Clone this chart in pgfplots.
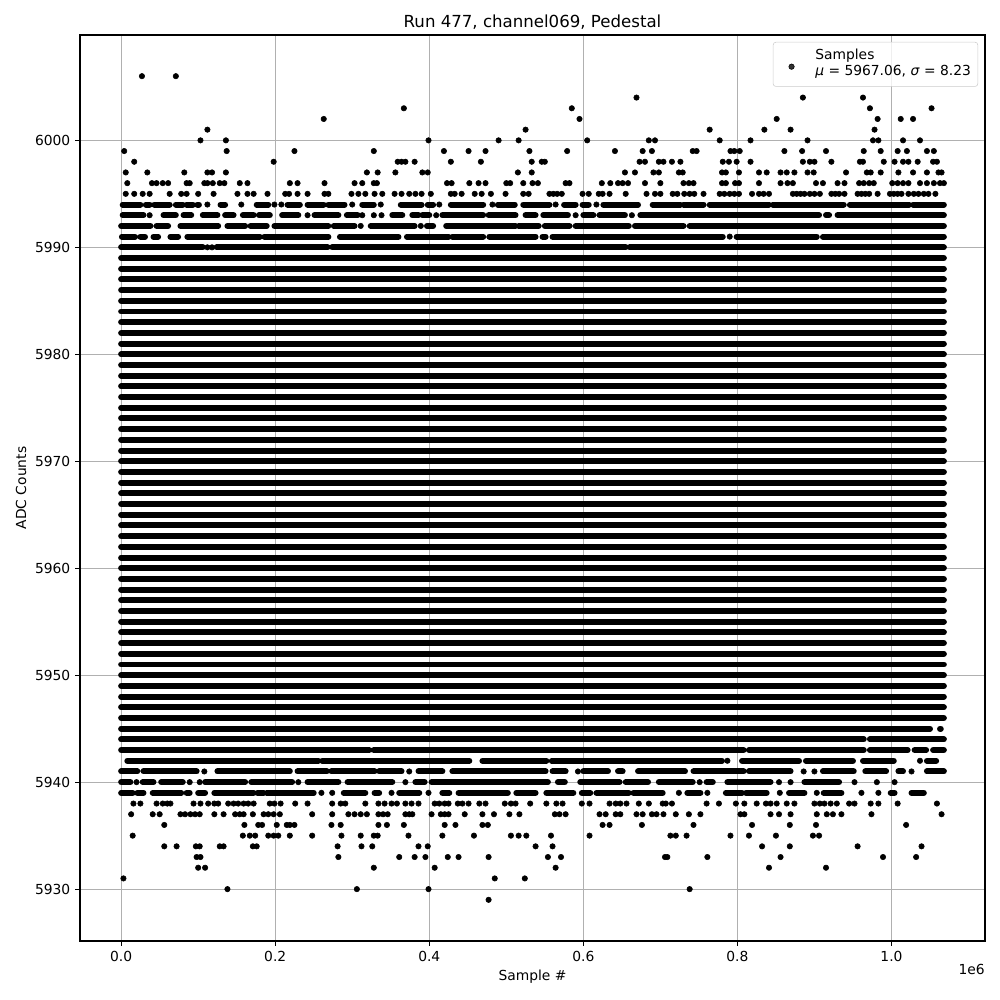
\documentclass[border=0pt]{standalone}
\usepackage{fontspec}
\setmainfont{DejaVu Sans}
\usepackage{pgfplots}
\pgfplotsset{compat=1.18}
\definecolor{gridgray}{HTML}{B0B0B0}
\definecolor{legendgray}{HTML}{CCCCCC}
\pgfplotsset{mylegimg/.style={legend image code/.code={\path (0pt,-5pt) (25.1pt,5pt); \draw[##1] plot coordinates {(10.1pt,-1.7pt)};}}}
\begin{document}
\begin{tikzpicture}
\begin{axis}[
  at={(0,0)}, anchor=south west,
  scale only axis, width=9.05in, height=9.06in,
  xmin=-0.0534, xmax=1.1214, ymin=5925.15, ymax=6009.85,
  axis line style={line width=0.8pt},
  tick pos=left, tick align=outside, major tick length=3.5pt,
  tick style={black, line width=0.8pt},
  /pgf/number format/assume math mode=true,
  xtick={0,0.2,0.4,0.6,0.8,1.0}, xticklabels={0.0,0.2,0.4,0.6,0.8,1.0},
  ytick={5930,5940,5950,5960,5970,5980,5990,6000},
  yticklabels={5930,5940,5950,5960,5970,5980,5990,6000},
  grid=major, major grid style={gridgray, line width=0.8pt},
  title={Run 477, channel069, Pedestal},
  every axis title/.style={font=\large, at={([yshift=5.7pt]axis description cs:0.5,1)}, anchor=base},
  xlabel={Sample \#},
  xlabel style={at={([yshift=-28.8pt]axis description cs:0.5,0)}, anchor=base},
  ylabel={ADC Counts},
  ylabel style={at={([xshift=-38.9pt]axis description cs:0,0.5)}, anchor=base},
  legend style={at={(axis description cs:1,1)}, anchor=north east, xshift=-5pt, yshift=-5pt,
    draw=legendgray, rounded corners=2pt, fill=white, fill opacity=0.8, text opacity=1,
    font=\normalsize, inner ysep=2pt, nodes={text depth=}},
  legend cell align=left,
  unbounded coords=jump,
]
\addplot[only marks, mark=*, mark size=1.96pt, black, mylegimg] coordinates {
(0.027,6006)(0.071,6006)
(0.669,6004)(0.885,6004)(0.963,6004)
(0.367,6003)(0.585,6003)(0.972,6003)(1.052,6003)
(0.263,6002)(0.595,6002)(0.851,6002)(0.982,6002)(1.012,6002)(1.028,6002)
(0.112,6001)(0.525,6001)(0.764,6001)(0.835,6001)(0.869,6001)(0.978,6001)
(0.103,6000)(0.136,6000)(0.399,6000)(0.490,6000)(0.516,6000)(0.605,6000)(0.685,6000)(0.693,6000)
(0.777,6000)(0.817,6000)(0.891,6000)(0.976,6000)(0.983,6000)(1.015,6000)(1.037,6000)
(0.004,5999)(0.137,5999)(0.225,5999)(0.328,5999)(0.419,5999)(0.451,5999)(0.473,5999)(0.530,5999)
(0.579,5999)(0.641,5999)(0.677,5999)(0.689,5999)(0.742,5999)(0.747,5999)(0.791,5999)(0.796,5999)
(0.803,5999)(0.861,5999)(0.884,5999)(0.915,5999)(0.964,5999)(0.986,5999)(1.008,5999)(1.020,5999)
(1.046,5999)(1.055,5999)
(0.017,5998)(0.198,5998)(0.359,5998)(0.364,5998)(0.369,5998)(0.381,5998)(0.428,5998)(0.467,5998)
(0.533,5998)(0.546,5998)(0.550,5998)(0.673,5998)(0.680,5998)(0.698,5998)(0.704,5998)(0.715,5998)
(0.726,5998)(0.781,5998)(0.789,5998)(0.799,5998)(0.817,5998)(0.885,5998)(0.894,5998)(0.900,5998)
(0.922,5998)(0.959,5998)(0.963,5998)(0.990,5998)(1.004,5998)(1.015,5998)(1.022,5998)(1.034,5998)
(1.054,5998)(1.059,5998)
(0.006,5997)(0.034,5997)(0.082,5997)(0.112,5997)(0.118,5997)(0.136,5997)(0.319,5997)(0.333,5997)
(0.356,5997)(0.391,5997)(0.398,5997)(0.515,5997)(0.533,5997)(0.654,5997)(0.667,5997)(0.691,5997)
(0.698,5997)(0.724,5997)(0.729,5997)(0.780,5997)(0.785,5997)(0.802,5997)(0.828,5997)(0.838,5997)
(0.856,5997)(0.864,5997)(0.874,5997)(0.891,5997)(0.899,5997)(0.941,5997)(0.968,5997)(0.973,5997)
(0.986,5997)(1.009,5997)(1.028,5997)(1.046,5997)(1.061,5997)(1.065,5997)
(0.008,5996)(0.040,5996)(0.046,5996)(0.054,5996)(0.061,5996)(0.085,5996)(0.089,5996)(0.108,5996)
(0.112,5996)(0.119,5996)(0.128,5996)(0.134,5996)(0.154,5996)(0.164,5996)(0.219,5996)(0.229,5996)
(0.264,5996)(0.303,5996)(0.313,5996)(0.328,5996)(0.332,5996)(0.423,5996)(0.429,5996)(0.452,5996)
(0.464,5996)(0.473,5996)(0.500,5996)(0.505,5996)(0.522,5996)(0.534,5996)(0.541,5996)(0.577,5996)
(0.582,5996)(0.624,5996)(0.635,5996)(0.645,5996)(0.651,5996)(0.658,5996)(0.680,5996)(0.700,5996)
(0.730,5996)(0.737,5996)(0.743,5996)(0.780,5996)(0.785,5996)(0.797,5996)(0.802,5996)(0.828,5996)
(0.856,5996)(0.865,5996)(0.872,5996)(0.902,5996)(0.911,5996)(0.930,5996)(0.939,5996)(0.958,5996)
(0.964,5996)(0.971,5996)(0.977,5996)(1.001,5996)(1.008,5996)(1.015,5996)(1.022,5996)(1.037,5996)
(1.046,5996)(1.055,5996)(1.063,5996)(1.068,5996)
(0.006,5995)(0.017,5995)(0.028,5995)(0.037,5995)(0.063,5995)(0.078,5995)(0.085,5995)(0.100,5995)
(0.120,5995)(0.151,5995)(0.164,5995)(0.172,5995)(0.190,5995)(0.213,5995)(0.218,5995)(0.229,5995)
(0.242,5995)(0.264,5995)(0.269,5995)(0.299,5995)(0.308,5995)(0.317,5995)(0.329,5995)(0.339,5995)
(0.355,5995)(0.364,5995)(0.374,5995)(0.382,5995)(0.390,5995)(0.402,5995)(0.428,5995)(0.433,5995)
(0.442,5995)(0.459,5995)(0.468,5995)(0.480,5995)(0.499,5995)(0.522,5995)(0.529,5995)(0.556,5995)
(0.561,5995)(0.566,5995)(0.572,5995)(0.599,5995)(0.607,5995)(0.620,5995)(0.625,5995)(0.634,5995)
(0.655,5995)(0.682,5995)(0.693,5995)(0.700,5995)(0.716,5995)(0.722,5995)(0.731,5995)(0.738,5995)
(0.744,5995)(0.756,5995)(0.777,5995)(0.783,5995)(0.790,5995)(0.796,5995)(0.802,5995)(0.819,5995)
(0.828,5995)(0.834,5995)(0.841,5995)(0.872,5995)(0.877,5995)(0.882,5995)(0.887,5995)(0.894,5995)
(0.900,5995)(0.907,5995)(0.922,5995)(0.927,5995)(0.932,5995)(0.939,5995)(0.956,5995)(0.961,5995)
(0.966,5995)(0.971,5995)(0.982,5995)(0.998,5995)(1.003,5995)(1.008,5995)(1.013,5995)(1.022,5995)
(1.029,5995)(1.035,5995)(1.042,5995)(1.048,5995)(1.057,5995)
(0.112,5994)(0.156,5994)(0.199,5994)(0.208,5994)(0.300,5994)(0.337,5994)(0.413,5994)(0.482,5994)
(0.564,5994)(0.617,5994)
(0.037,5993)(0.242,5993)(0.313,5993)(0.328,5993)(0.338,5993)(0.409,5993)(0.590,5993)(0.663,5993)
(0.311,5992)(0.389,5992)
(0.790,5991)
(0.112,5990)(0.118,5990)
(0.787,5942)(1.037,5942)
(0.108,5941)(0.374,5941)(0.593,5941)(0.886,5941)(0.900,5941)(1.026,5941)
(0.020,5940)(0.089,5940)(0.102,5940)(0.230,5940)(0.369,5940)(0.751,5940)(0.854,5940)(0.869,5940)
(0.952,5940)(0.981,5940)(1.004,5940)
(0.260,5939)(0.274,5939)(0.351,5939)(0.399,5939)(0.724,5939)(0.761,5939)(0.855,5939)(0.903,5939)
(0.961,5939)(0.983,5939)
(0.016,5938)(0.025,5938)(0.046,5938)(0.054,5938)(0.060,5938)(0.064,5938)(0.094,5938)(0.103,5938)
(0.113,5938)(0.121,5938)(0.126,5938)(0.139,5938)(0.146,5938)(0.152,5938)(0.159,5938)(0.165,5938)
(0.172,5938)(0.193,5938)(0.199,5938)(0.207,5938)(0.226,5938)(0.242,5938)(0.274,5938)(0.285,5938)
(0.291,5938)(0.317,5938)(0.334,5938)(0.342,5938)(0.351,5938)(0.358,5938)(0.369,5938)(0.377,5938)
(0.386,5938)(0.407,5938)(0.413,5938)(0.420,5938)(0.425,5938)(0.437,5938)(0.443,5938)(0.451,5938)
(0.465,5938)(0.473,5938)(0.498,5938)(0.506,5938)(0.512,5938)(0.531,5938)(0.552,5938)(0.565,5938)
(0.573,5938)(0.598,5938)(0.608,5938)(0.634,5938)(0.642,5938)(0.648,5938)(0.656,5938)(0.672,5938)
(0.685,5938)(0.703,5938)(0.707,5938)(0.715,5938)(0.760,5938)(0.776,5938)(0.798,5938)(0.809,5938)
(0.825,5938)(0.837,5938)(0.843,5938)(0.851,5938)(0.864,5938)(0.874,5938)(0.900,5938)(0.907,5938)
(0.913,5938)(0.921,5938)(0.929,5938)(0.945,5938)(0.952,5938)(0.973,5938)(0.983,5938)(1.008,5938)
(1.059,5938)
(0.013,5937)(0.041,5937)(0.050,5937)(0.077,5937)(0.083,5937)(0.090,5937)(0.096,5937)(0.102,5937)
(0.121,5937)(0.133,5937)(0.148,5937)(0.154,5937)(0.159,5937)(0.171,5937)(0.185,5937)(0.191,5937)
(0.198,5937)(0.206,5937)(0.248,5937)(0.274,5937)(0.295,5937)(0.303,5937)(0.311,5937)(0.319,5937)
(0.334,5937)(0.340,5937)(0.346,5937)(0.369,5937)(0.374,5937)(0.378,5937)(0.403,5937)(0.415,5937)
(0.420,5937)(0.425,5937)(0.446,5937)(0.469,5937)(0.484,5937)(0.504,5937)(0.517,5937)(0.563,5937)
(0.569,5937)(0.577,5937)(0.621,5937)(0.629,5937)(0.642,5937)(0.648,5937)(0.669,5937)(0.677,5937)
(0.689,5937)(0.695,5937)(0.704,5937)(0.720,5937)(0.737,5937)(0.752,5937)(0.804,5937)(0.809,5937)
(0.843,5937)(0.854,5937)(0.869,5937)(0.903,5937)(0.916,5937)(0.924,5937)(0.935,5937)(0.974,5937)
(1.065,5937)
(0.056,5936)(0.160,5936)(0.178,5936)(0.183,5936)(0.202,5936)(0.215,5936)(0.219,5936)(0.225,5936)
(0.273,5936)(0.285,5936)(0.334,5936)(0.345,5936)(0.367,5936)(0.420,5936)(0.434,5936)(0.469,5936)
(0.476,5936)(0.625,5936)(0.634,5936)(0.676,5936)(0.743,5936)(0.819,5936)(0.868,5936)(0.902,5936)
(1.019,5936)
(0.015,5935)(0.158,5935)(0.167,5935)(0.174,5935)(0.191,5935)(0.198,5935)(0.204,5935)(0.219,5935)
(0.248,5935)(0.286,5935)(0.311,5935)(0.328,5935)(0.333,5935)(0.373,5935)(0.417,5935)(0.458,5935)
(0.506,5935)(0.516,5935)(0.526,5935)(0.558,5935)(0.608,5935)(0.713,5935)(0.720,5935)(0.734,5935)
(0.791,5935)(0.815,5935)(0.850,5935)(0.898,5935)(0.906,5935)
(0.056,5934)(0.072,5934)(0.097,5934)(0.102,5934)(0.128,5934)(0.133,5934)(0.171,5934)(0.176,5934)
(0.281,5934)(0.312,5934)(0.326,5934)(0.386,5934)(0.398,5934)(0.538,5934)(0.560,5934)(0.832,5934)
(0.868,5934)(0.956,5934)(1.039,5934)
(0.098,5933)(0.103,5933)(0.282,5933)(0.361,5933)(0.381,5933)(0.395,5933)(0.424,5933)(0.438,5933)
(0.477,5933)(0.554,5933)(0.571,5933)(0.706,5933)(0.709,5933)(0.761,5933)(0.856,5933)(0.989,5933)
(1.032,5933)
(0.100,5932)(0.109,5932)(0.328,5932)(0.407,5932)(0.564,5932)(0.841,5932)(0.915,5932)
(0.003,5931)(0.485,5931)(0.524,5931)
(0.138,5930)(0.306,5930)(0.399,5930)(0.738,5930)
(0.477,5929)
};
\addlegendentry{\begin{tabular}[c]{@{}l@{}}Samples\\\textit{μ} = 5967.06, \textit{σ} = 8.23\end{tabular}}
\addplot[forget plot, black, line width=4.32pt, line cap=round] coordinates {
(0.002,5994)(0.025,5994)(nan,nan)(0.032,5994)(0.037,5994)(nan,nan)(0.043,5994)(0.063,5994)(nan,nan)
(0.071,5994)(0.080,5994)(nan,nan)(0.085,5994)(0.093,5994)(nan,nan)(0.099,5994)(0.101,5994)(nan,nan)
(0.129,5994)(0.135,5994)(nan,nan)(0.176,5994)(0.191,5994)(nan,nan)(0.216,5994)(0.232,5994)(nan,nan)
(0.242,5994)(0.263,5994)(nan,nan)(0.269,5994)(0.290,5994)(nan,nan)(0.313,5994)(0.328,5994)(nan,nan)
(0.363,5994)(0.390,5994)(nan,nan)(0.398,5994)(0.405,5994)(nan,nan)(0.428,5994)(0.470,5994)(nan,nan)
(0.489,5994)(0.511,5994)(nan,nan)(0.522,5994)(0.556,5994)(nan,nan)(0.575,5994)(0.590,5994)(nan,nan)
(0.599,5994)(0.607,5994)(nan,nan)(0.626,5994)(0.671,5994)(nan,nan)(0.690,5994)(0.726,5994)(nan,nan)
(0.730,5994)(0.756,5994)(nan,nan)(0.764,5994)(0.841,5994)(nan,nan)(0.846,5994)(0.938,5994)(nan,nan)
(0.946,5994)(1.023,5994)(nan,nan)(1.028,5994)(1.068,5994)(nan,nan)
(0.002,5993)(0.029,5993)(nan,nan)(0.055,5993)(0.071,5993)(nan,nan)(0.081,5993)(0.091,5993)(nan,nan)
(0.106,5993)(0.125,5993)(nan,nan)(0.135,5993)(0.146,5993)(nan,nan)(0.158,5993)(0.172,5993)(nan,nan)
(0.179,5993)(0.193,5993)(nan,nan)(0.209,5993)(0.230,5993)(nan,nan)(0.251,5993)(0.282,5993)(nan,nan)
(0.293,5993)(0.307,5993)(nan,nan)(0.352,5993)(0.365,5993)(nan,nan)(0.378,5993)(0.386,5993)(nan,nan)
(0.391,5993)(0.400,5993)(nan,nan)(0.417,5993)(0.470,5993)(nan,nan)(0.477,5993)(0.512,5993)(nan,nan)
(0.525,5993)(0.538,5993)(nan,nan)(0.548,5993)(0.580,5993)(nan,nan)(0.600,5993)(0.613,5993)(nan,nan)
(0.621,5993)(0.654,5993)(nan,nan)(0.674,5993)(0.906,5993)(nan,nan)(0.915,5993)(0.919,5993)(nan,nan)
(0.930,5993)(1.068,5993)(nan,nan)
(0,5992)(0.038,5992)(nan,nan)(0.046,5992)(0.061,5992)(nan,nan)(0.077,5992)(0.126,5992)(nan,nan)
(0.138,5992)(0.161,5992)(nan,nan)(0.168,5992)(0.189,5992)(nan,nan)(0.199,5992)(0.269,5992)(nan,nan)
(0.276,5992)(0.303,5992)(nan,nan)(0.324,5992)(0.381,5992)(nan,nan)(0.397,5992)(0.405,5992)(nan,nan)
(0.422,5992)(0.512,5992)(nan,nan)(0.516,5992)(0.542,5992)(nan,nan)(0.550,5992)(0.582,5992)(nan,nan)
(0.590,5992)(0.659,5992)(nan,nan)(0.667,5992)(0.730,5992)(nan,nan)(0.738,5992)(1.068,5992)(nan,nan)
(0.001,5991)(0.018,5991)(nan,nan)(0.025,5991)(0.031,5991)(nan,nan)(0.042,5991)(0.048,5991)(nan,nan)
(0.064,5991)(0.074,5991)(nan,nan)
(0.086,5991)(0.180,5991)(nan,nan)(0.186,5991)(0.269,5991)(nan,nan)(0.284,5991)(0.360,5991)(nan,nan)
(0.371,5991)(0.425,5991)(nan,nan)(0.430,5991)(0.470,5991)(nan,nan)(0.478,5991)(0.538,5991)(nan,nan)
(0.547,5991)(0.551,5991)(nan,nan)(0.560,5991)(0.781,5991)(nan,nan)(0.799,5991)(0.903,5991)(nan,nan)
(0.911,5991)(1.068,5991)(nan,nan)
(0,5990)(0.106,5990)(nan,nan)(0.124,5990)(0.268,5990)(nan,nan)(0.274,5990)(0.655,5990)(nan,nan)
(0.660,5990)(1.068,5990)(nan,nan)
(0,5989)(1.068,5989)(nan,nan)(0,5988)(1.068,5988)(nan,nan)
(0,5987)(1.068,5987)(nan,nan)(0,5986)(1.068,5986)(nan,nan)(0,5985)(1.068,5985)(nan,nan)
(0,5984)(1.068,5984)(nan,nan)(0,5983)(1.068,5983)(nan,nan)(0,5982)(1.068,5982)(nan,nan)
(0,5981)(1.068,5981)(nan,nan)(0,5980)(1.068,5980)(nan,nan)(0,5979)(1.068,5979)(nan,nan)
(0,5978)(1.068,5978)(nan,nan)(0,5977)(1.068,5977)(nan,nan)(0,5976)(1.068,5976)(nan,nan)
(0,5975)(1.068,5975)(nan,nan)(0,5974)(1.068,5974)(nan,nan)(0,5973)(1.068,5973)(nan,nan)
(0,5972)(1.068,5972)(nan,nan)(0,5971)(1.068,5971)(nan,nan)(0,5970)(1.068,5970)(nan,nan)
(0,5969)(1.068,5969)(nan,nan)(0,5968)(1.068,5968)(nan,nan)(0,5967)(1.068,5967)(nan,nan)
(0,5966)(1.068,5966)(nan,nan)(0,5965)(1.068,5965)(nan,nan)(0,5964)(1.068,5964)(nan,nan)
(0,5963)(1.068,5963)(nan,nan)(0,5962)(1.068,5962)(nan,nan)(0,5961)(1.068,5961)(nan,nan)
(0,5960)(1.068,5960)(nan,nan)(0,5959)(1.068,5959)(nan,nan)(0,5958)(1.068,5958)(nan,nan)
(0,5957)(1.068,5957)(nan,nan)(0,5956)(1.068,5956)(nan,nan)(0,5955)(1.068,5955)(nan,nan)
(0,5954)(1.068,5954)(nan,nan)(0,5953)(1.068,5953)(nan,nan)(0,5952)(1.068,5952)(nan,nan)
(0,5951)(1.068,5951)(nan,nan)(0,5950)(1.068,5950)(nan,nan)(0,5949)(1.068,5949)(nan,nan)
(0,5948)(1.068,5948)(nan,nan)(0,5947)(1.068,5947)(nan,nan)(0,5946)(1.068,5946)(nan,nan)
(0,5945)(1.050,5945)(nan,nan)(1.063,5945)(1.064,5945)(nan,nan)
(0,5944)(0.964,5944)(nan,nan)(0.972,5944)(1.068,5944)(nan,nan)
(0,5943)(0.322,5943)(nan,nan)(0.328,5943)(0.808,5943)(nan,nan)(0.815,5943)(0.964,5943)(nan,nan)
(0.972,5943)(1.021,5943)(nan,nan)(1.030,5943)(1.045,5943)(nan,nan)(1.054,5943)(1.068,5943)(nan,nan)
(0.008,5942)(0.256,5942)(nan,nan)(0.261,5942)(0.452,5942)(nan,nan)(0.469,5942)(0.552,5942)(nan,nan)
(0.559,5942)(0.780,5942)(nan,nan)(0.806,5942)(0.880,5942)(nan,nan)(0.889,5942)(0.950,5942)(nan,nan)
(0.963,5942)(1.003,5942)(nan,nan)(1.046,5942)(1.058,5942)(nan,nan)
(0,5941)(0.021,5941)(nan,nan)(0.029,5941)(0.098,5941)(nan,nan)(0.125,5941)(0.219,5941)(nan,nan)
(0.229,5941)(0.267,5941)(nan,nan)(0.273,5941)(0.329,5941)(nan,nan)(0.335,5941)(0.364,5941)(nan,nan)
(0.386,5941)(0.417,5941)(nan,nan)(0.430,5941)(0.551,5941)(nan,nan)(0.560,5941)(0.577,5941)(nan,nan)
(0.600,5941)(0.632,5941)(nan,nan)(0.645,5941)(0.651,5941)(nan,nan)(0.671,5941)(0.732,5941)(nan,nan)
(0.743,5941)(0.808,5941)(nan,nan)(0.815,5941)(0.869,5941)(nan,nan)(0.911,5941)(0.951,5941)(nan,nan)
(0.966,5941)(0.993,5941)(nan,nan)(1.009,5941)(1.015,5941)(nan,nan)(1.046,5941)(1.068,5941)(nan,nan)
(0,5940)(0.012,5940)(nan,nan)(0.028,5940)(0.042,5940)(nan,nan)(0.052,5940)(0.080,5940)(nan,nan)
(0.109,5940)(0.161,5940)(nan,nan)(0.169,5940)(0.222,5940)(nan,nan)(0.242,5940)(0.282,5940)(nan,nan)
(0.294,5940)(0.352,5940)(nan,nan)(0.382,5940)(0.394,5940)(nan,nan)(0.403,5940)(0.554,5940)(nan,nan)
(0.567,5940)(0.576,5940)(nan,nan)(0.596,5940)(0.647,5940)(nan,nan)(0.655,5940)(0.684,5940)(nan,nan)
(0.698,5940)(0.742,5940)(nan,nan)(0.760,5940)(0.768,5940)(nan,nan)(0.787,5940)(0.843,5940)(nan,nan)
(0.887,5940)(0.932,5940)(nan,nan)
(0,5939)(0.015,5939)(nan,nan)(0.021,5939)(0.029,5939)(nan,nan)(0.041,5939)(0.078,5939)(nan,nan)
(0.085,5939)(0.089,5939)(nan,nan)(0.100,5939)(0.109,5939)(nan,nan)(0.121,5939)(0.172,5939)(nan,nan)
(0.177,5939)(0.185,5939)(nan,nan)(0.189,5939)(0.250,5939)(nan,nan)(0.289,5939)(0.317,5939)(nan,nan)
(0.329,5939)(0.335,5939)(nan,nan)(0.361,5939)(0.387,5939)(nan,nan)(0.417,5939)(0.426,5939)(nan,nan)
(0.438,5939)(0.502,5939)(nan,nan)(0.513,5939)(0.538,5939)(nan,nan)(0.552,5939)(0.587,5939)(nan,nan)
(0.598,5939)(0.609,5939)(nan,nan)(0.617,5939)(0.659,5939)(nan,nan)(0.665,5939)(0.703,5939)(nan,nan)
(0.735,5939)(0.752,5939)(nan,nan)(0.785,5939)(0.806,5939)(nan,nan)(0.811,5939)(0.838,5939)(nan,nan)
(0.867,5939)(0.887,5939)(nan,nan)(0.912,5939)(0.935,5939)(nan,nan)(0.999,5939)(1.004,5939)(nan,nan)
(1.026,5939)(1.042,5939)(nan,nan)
};
\end{axis}
\node[anchor=north east, inner sep=0pt] at (9.05in,-0.225in) {1e6};
\path (-0.8in,-0.59in) rectangle (9.2in,9.41in);
\end{tikzpicture}
\end{document}
